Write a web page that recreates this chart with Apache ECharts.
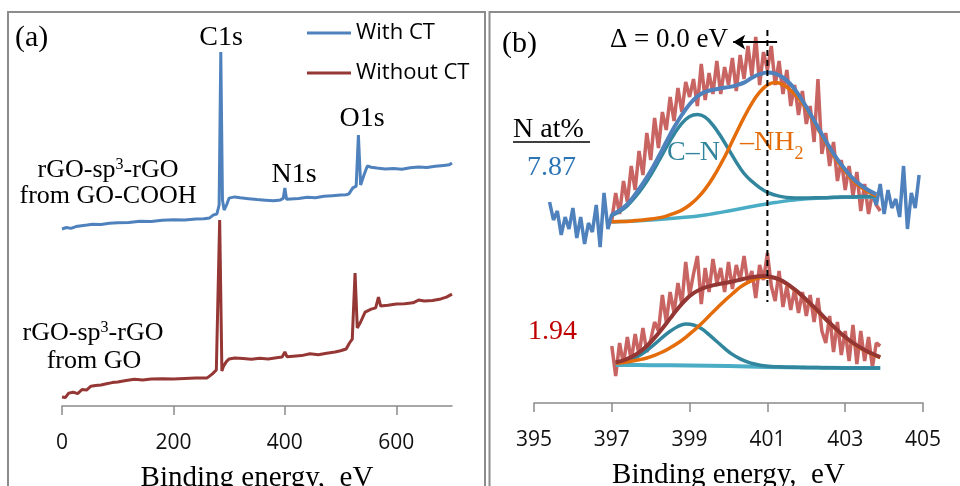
<!DOCTYPE html>
<html>
<head>
<meta charset="utf-8">
<script src="https://cdn.jsdelivr.net/npm/echarts@6/dist/echarts.min.js"></script>
<style>
  html, body { margin: 0; background: #fff; }
  #chart { width: 960px; height: 486px; }
</style>
</head>
<body>
<div id="chart"></div>
<script>
// (a) survey spectra, intensity in arbitrary units
const surveyWithE = [0,8,16,25,35,45,55,70,85,100,120,140,160,180,200,220,240,255,265,272,278,282,285,288,291,296,300,310,320,335,350,365,380,392,397,400,403,410,425,440,455,470,485,500,510,515,522,528,532,536,542,548,555,565,580,595,610,625,640,655,670,685,695,700];
const surveyWithI = [59,59.5,59.2,59.8,60.1,60.3,60.6,60.5,60.9,61.1,61.2,61.6,61.5,61.9,62.1,62,62.3,62.4,62.7,63.7,64,67,118,68.7,65.3,67.3,69.3,69.7,69.4,69.1,68.8,68.6,68.4,68.7,69.2,72.7,68.9,69,69.2,69.6,69.4,69.9,70.1,70.3,70.4,70.7,72.7,73.3,90.3,73.7,77,80,79.6,79.3,79,79.2,78.9,79.4,79.7,79.5,79.9,80.2,80.4,81];
const surveyWithoutE = [0,6,12,20,28,36,44,52,60,70,80,90,100,115,130,145,160,180,200,220,240,260,270,277,283,287,290,295,300,310,325,340,355,370,385,395,400,404,415,430,445,460,475,490,500,510,516,521,526,530,536,544,555,563,568,572,585,600,615,630,640,650,665,680,690,700];
const surveyWithoutI = [3,2.8,4.3,4.6,4.1,5.5,5.3,6.6,6.8,7,7.4,7.8,8,8.5,8.9,8.7,9,9.1,9,9.2,9.3,9.3,10.7,12,62,11.7,13.3,14.8,15.7,16,15.8,15.6,15.9,15.7,16.1,16.3,18,16.4,16.6,16.8,17.4,17.1,17.6,18,18.4,19,21,22.3,44.3,26,28,31.3,32.3,32.7,36.3,33.3,33.6,34,34.1,34.4,35.3,35,35.2,35.7,36.3,37.3];
const surveyTicks = [0, 200, 400, 600];

// (b) N1s spectra, upper sample (7.87 at%)
const rawTopLeftE = [395.4,395.5,395.6,395.7,395.8,395.9,396.0,396.1,396.2,396.3,396.4,396.5,396.6,396.7,396.8,396.9,397.0];
const rawTopLeftI = [67,61,64,56,62,58,65,55,62,53,60,57,66,52,70,58,63];
const rawTopE = [396.9,397.0,397.1,397.2,397.3,397.4,397.5,397.6,397.7,397.8,397.9,398.0,398.1,398.2,398.3,398.4,398.5,398.6,398.7,398.8,398.9,399.0,399.1,399.2,399.3,399.4,399.5,399.6,399.7,399.8,399.9,400.0,400.1,400.2,400.3,400.4,400.5,400.6,400.7,400.8,400.9,401.0,401.1,401.2,401.3,401.4,401.5,401.6,401.7,401.8,401.9,402.0,402.1,402.2,402.3,402.4,402.5,402.6,402.7,402.8,402.9,403.0,403.1,403.2,403.3,403.4,403.5,403.6,403.7,403.8,403.9];
const rawTopI = [59,61,70,63,74,67,79,71,84,76,90,81,95,85,97,91,102,94,105,97,107,102,108,99,113,101,110,103,114,103,112,106,115,104,116,108,119,109,122,106,117,111,119,106,114,103,111,99,106,96,104,93,99,87,108,83,90,79,87,74,81,71,79,69,77,64,73,63,70,66,64];
const rawTopRightE = [403.7,403.8,403.9,404.0,404.1,404.2,404.3,404.4,404.5,404.6,404.7,404.8,404.9];
const rawTopRightI = [70,66,73,63,71,65,68,62,79,58,70,65,76];
const baseTopE = [397.0,397.6,398.2,398.8,399.4,400.0,400.6,401.2,401.8,402.4,403.0,403.8];
const baseTopI = [60.3,60.7,61.2,61.8,62.7,64.0,65.5,66.8,67.8,68.3,68.6,68.7];
const fitTopE = [397.0,397.2,397.4,397.6,397.8,398.0,398.2,398.4,398.6,398.8,399.0,399.2,399.4,399.6,399.8,400.0,400.2,400.4,400.6,400.8,401.0,401.2,401.4,401.6,401.8,402.0,402.2,402.4,402.6,402.8,403.0,403.2,403.4,403.6,403.8];
const cnTopI = [62.5,63.8,65.8,68.6,72.0,76.0,80.5,85.2,89.6,93.2,95.5,96.2,95.3,92.6,88.9,84.6,80.3,76.5,73.9,71.8,70.2,69.3,68.7,68.4,68.3,68.3,68.4,68.4,68.5,68.6,68.7,68.7,68.8,68.8,68.8];
const nh2TopI = [60.4,60.5,60.5,60.8,61.0,61.3,61.7,62.3,63.2,64.3,66.0,68.3,71.3,75.1,79.6,84.6,90.0,95.2,99.9,103.6,106.0,106.8,106.1,104.2,101.6,98.1,93.6,89.0,84.6,80.6,77.2,74.2,72.0,70.3,69.0];
const sumTopI = [62.8,64.2,66.3,69.5,73.2,77.3,82.0,87.0,91.8,96.0,99.6,102.2,103.7,104.4,104.9,105.3,105.9,106.8,108.4,109.6,110.2,109.8,108.5,106.2,102.8,98.7,94.2,89.6,85.2,81.2,77.8,74.8,72.6,70.9,69.6];

// (b) lower sample (1.94 at%)
const rawBotE = [397.0,397.1,397.2,397.3,397.4,397.5,397.6,397.7,397.8,397.9,398.0,398.1,398.2,398.3,398.4,398.5,398.6,398.7,398.8,398.9,399.0,399.1,399.2,399.3,399.4,399.5,399.6,399.7,399.8,399.9,400.0,400.1,400.2,400.3,400.4,400.5,400.6,400.7,400.8,400.9,401.0,401.1,401.2,401.3,401.4,401.5,401.6,401.7,401.8,401.9,402.0,402.1,402.2,402.3,402.4,402.5,402.6,402.7,402.8,402.9,403.0,403.1,403.2,403.3,403.4,403.5,403.6,403.7,403.8,403.9];
const rawBotI = [19,9,20,13,22,14,23,16,25,17,21,27,24,36,27,37,30,40,33,47,36,43,49,33,45,37,48,40,45,37,47,38,46,41,49,40,44,35,46,41,50,39,34,44,32,39,31,38,30,37,29,36,27,35,24,20,29,17,27,16,24,14,26,13,24,14,22,12,20,19];
const baseBotE = [397.1,398.0,399.0,400.0,401.0,402.0,403.0,403.9];
const baseBotI = [12.7,12.6,12.5,12.3,12.0,11.8,11.7,11.7];
const fitBotE = [397.1,397.3,397.5,397.7,397.9,398.1,398.3,398.5,398.7,398.9,399.1,399.3,399.5,399.7,399.9,400.1,400.3,400.5,400.7,400.9,401.1,401.3,401.5,401.7,401.9,402.1,402.3,402.5,402.7,402.9,403.1,403.3,403.5,403.7,403.9];
const cnBotI = [13.3,13.7,14.6,15.8,17.5,19.6,21.9,23.9,25.5,26.3,26.0,24.8,22.8,20.5,18.2,16.2,14.7,13.6,12.9,12.4,12.2,12.05,11.95,11.9,11.85,11.8,11.8,11.75,11.75,11.7,11.7,11.7,11.7,11.7,11.7];
const nh2BotI = [13.25,13.5,13.9,14.4,15.0,15.9,17.0,18.4,20.0,21.9,24.1,26.4,29.0,31.6,34.1,36.4,38.6,40.2,41.4,41.9,41.9,41.0,39.6,37.7,35.5,33.0,30.5,27.8,25.3,22.9,20.8,19.0,17.5,16.2,15.1];
const sumBotI = [13.6,14.2,15.3,16.9,19.0,21.7,24.8,28.2,31.5,34.4,36.6,38.0,38.9,39.5,40.0,40.5,41.1,41.7,42.1,42.3,42.0,41.2,39.8,37.9,35.7,33.2,30.7,28.0,25.5,23.1,21.0,19.2,17.7,16.4,15.3];

const nTicks = [395, 397, 399, 401, 403, 405];
const peakPos = 401.0;

const zip = (xs, ys) => xs.map((x, i) => [x, ys[i]]);
const serif = 'Liberation Serif';
const sans = 'Open Sans';

const BLUE = '#4F81BD', DARKRED = '#953735', RAWRED = 'rgba(192,80,77,0.88)';
const CYAN = '#4BACC6', TEAL = '#31859C', ORANGE = '#E46C0A', ENVRED = '#943634';

function ln(name, data, color, width, axis, extra) {
  return Object.assign({
    name: name, type: 'line', data: data,
    xAxisIndex: axis, yAxisIndex: axis,
    showSymbol: false, symbol: 'none', silent: true,
    lineStyle: { color: color, width: width },
    itemStyle: { color: color }
  }, extra || {});
}

function label(x, y, text, size, color, align, rich) {
  return {
    type: 'text', x: x, y: y, silent: true,
    style: {
      text: text, fontSize: size, fontFamily: serif, fill: color || '#000',
      align: align || 'center', verticalAlign: 'middle', rich: rich
    }
  };
}

const supRich = { s: { fontSize: 16, fontFamily: serif, verticalAlign: 'top', lineHeight: 18 } };

const axisCommon = {
  type: 'value',
  axisLine: { show: true, lineStyle: { color: '#8a8a8a', width: 1.5 } },
  axisTick: { show: true, length: 9, lineStyle: { color: '#8a8a8a', width: 1.5 } },
  splitLine: { show: false },
  axisLabel: { fontSize: 21, fontFamily: sans, color: '#111', margin: 27 },
  name: 'Binding energy,  eV',
  nameLocation: 'middle',
  nameGap: 58,
  nameTextStyle: { fontSize: 29, fontFamily: serif, color: '#000' }
};

const chart = echarts.init(document.getElementById('chart'));
chart.setOption({
  animation: false,
  backgroundColor: '#fff',
  grid: [
    { left: 62, right: 508, top: 46, bottom: 80, containLabel: false, outerBoundsMode: 'none' },
    { left: 534, right: 37, top: 28, bottom: 83, containLabel: false, outerBoundsMode: 'none' }
  ],
  xAxis: [
    Object.assign({}, axisCommon, {
      gridIndex: 0, min: 0, max: 700,
      axisTick: Object.assign({}, axisCommon.axisTick, { customValues: surveyTicks }),
      axisLabel: Object.assign({}, axisCommon.axisLabel, { customValues: surveyTicks })
    }),
    Object.assign({}, axisCommon, {
      gridIndex: 1, min: 395, max: 405,
      axisTick: Object.assign({}, axisCommon.axisTick, { customValues: nTicks }),
      axisLabel: Object.assign({}, axisCommon.axisLabel, { customValues: nTicks })
    })
  ],
  yAxis: [
    { type: 'value', gridIndex: 0, min: 0, max: 120, show: false },
    { type: 'value', gridIndex: 1, min: 0, max: 125, show: false }
  ],
  legend: {
    data: ['With CT', 'Without CT'],
    orient: 'vertical', left: 307, top: 22, itemGap: 18, padding: 0,
    itemWidth: 44, itemHeight: 3, icon: 'rect',
    textStyle: { fontSize: 22, fontFamily: sans, color: '#000' },
    selectedMode: false
  },
  series: [
    ln('With CT', zip(surveyWithE, surveyWithI), BLUE, 3, 0),
    ln('Without CT', zip(surveyWithoutE, surveyWithoutI), DARKRED, 3, 0),

    ln('raw top', zip(rawTopE, rawTopI), RAWRED, 3.5, 1),
    ln('raw top left', zip(rawTopLeftE, rawTopLeftI), BLUE, 3.5, 1),
    ln('raw top right', zip(rawTopRightE, rawTopRightI), BLUE, 3.5, 1),
    ln('bg top', zip(baseTopE, baseTopI), CYAN, 3.5, 1, { smooth: 0.4 }),
    ln('C-N top', zip(fitTopE, cnTopI), TEAL, 3.5, 1, { smooth: 0.4 }),
    ln('NH2 top', zip(fitTopE, nh2TopI), ORANGE, 3.5, 1, { smooth: 0.4 }),
    ln('sum top', zip(fitTopE, sumTopI), BLUE, 4, 1, { smooth: 0.4 }),

    ln('raw bot', zip(rawBotE, rawBotI), RAWRED, 3.5, 1),
    ln('bg bot', zip(baseBotE, baseBotI), CYAN, 4, 1, { smooth: 0.4 }),
    ln('C-N bot', zip(fitBotE, cnBotI), TEAL, 3.5, 1, { smooth: 0.4 }),
    ln('NH2 bot', zip(fitBotE, nh2BotI), ORANGE, 3.5, 1, { smooth: 0.4 }),
    ln('sum bot', zip(fitBotE, sumBotI), ENVRED, 4, 1, { smooth: 0.4 }),

    ln('peak marker', [[peakPos, 124.3], [peakPos, 33.7]], '#000', 2, 1, {
      lineStyle: { color: '#000', width: 2, type: [6, 4] },
      markLine: {
        silent: true, animation: false,
        symbol: ['none', 'arrow'], symbolSize: [11, 12],
        lineStyle: { color: '#000', width: 2, type: 'solid' },
        label: { show: false },
        data: [[{ coord: [401.25, 120.3] }, { coord: [400.12, 120.3] }]]
      }
    })
  ],
  graphic: [
    { type: 'rect', silent: true, shape: { x: 8, y: 12, width: 477, height: 520 },
      style: { fill: 'none', stroke: '#8c8c8c', lineWidth: 2 } },
    { type: 'rect', silent: true, shape: { x: 489.5, y: 12, width: 520, height: 520 },
      style: { fill: 'none', stroke: '#8c8c8c', lineWidth: 2 } },

    label(15, 38, '(a)', 30, '#000', 'left'),
    label(221, 38, 'C1s', 28),
    label(362, 119, 'O1s', 28),
    label(294, 175, 'N1s', 28),
    label(108, 170, 'rGO-sp{s|3}-rGO', 26, '#000', 'center', supRich),
    label(108, 196, 'from GO-COOH', 26),
    label(93, 333, 'rGO-sp{s|3}-rGO', 26, '#000', 'center', supRich),
    label(94, 361, 'from GO', 26),

    label(502, 44, '(b)', 30, '#000', 'left'),
    label(610, 40, '\u0394 = 0.0 eV', 27, '#000', 'left'),
    label(513, 130, 'N at%', 28, '#000', 'left'),
    { type: 'line', silent: true, shape: { x1: 513, y1: 142, x2: 590, y2: 142 },
      style: { stroke: '#000', lineWidth: 1.5 } },
    label(527, 168, '7.87', 28, '#2E75B6', 'left'),
    label(528, 332, '1.94', 28, '#C00000', 'left'),
    label(667, 153, 'C\u2013N', 28, TEAL, 'left'),
    label(740, 143, '\u2013NH{b|2}', 28, ORANGE, 'left',
      { b: { fontSize: 18, fontFamily: serif, fill: ORANGE, color: ORANGE, verticalAlign: 'bottom', lineHeight: 40 } })
  ]
});
</script>
</body>
</html>
